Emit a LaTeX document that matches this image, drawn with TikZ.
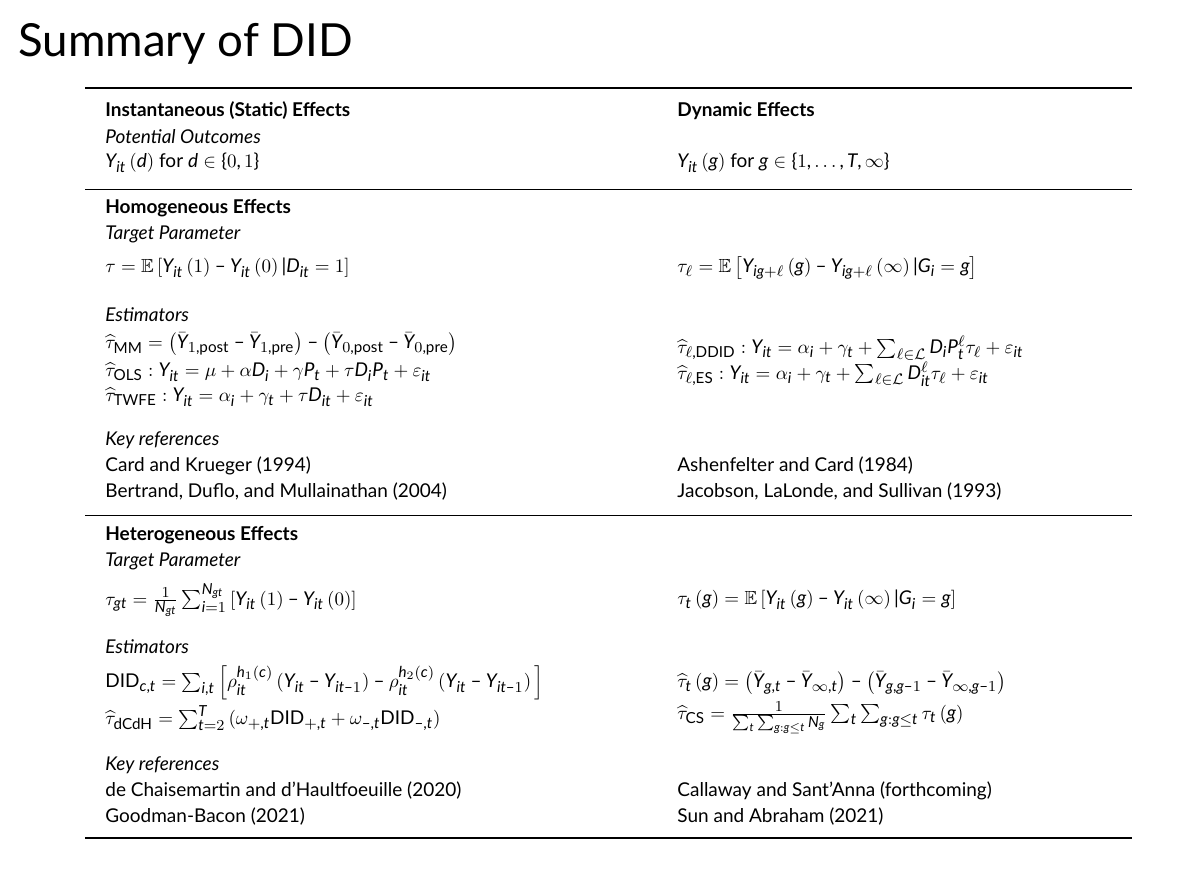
\documentclass[tikz,border=0pt]{standalone}
\usepackage{amsmath,amssymb}
\usepackage{fontspec}
\setmainfont{Lato}
\setsansfont{Lato}
\usepackage[italic]{mathastext}
\begin{document}
\begin{tikzpicture}[scale=1.9,x=0.526316pt,y=-0.526316pt,every node/.style={transform shape},
  t/.style={anchor=west,inner sep=0pt,font=\normalsize},
  hd/.style={t,font=\normalsize\bfseries},
  it/.style={t,font=\normalsize\itshape}]
\useasboundingbox (0,0) rectangle (1200,871);
\node[anchor=west,inner sep=0pt,font=\fontsize{24}{28}\selectfont] (title) at (18,44) {Summary of DID};
\draw[line width=2.2pt] (85,88) -- (1132,88);
\draw[line width=1pt] (85,190) -- (1132,190);
\draw[line width=1pt] (85,515) -- (1132,515);
\draw[line width=2.2pt] (85,838) -- (1132,838);
% left
\node[hd] (l1) at (105,111) {Instantaneous (Static) Effects};
\node[it] (l2) at (105,137) {Potential Outcomes};
\node[t] (l3) at (105,163) {$Y_{it}\left(d\right)$ for $d\in\{0,1\}$};
\node[hd] (l4) at (105,208) {Homogeneous Effects};
\node[it] (l5) at (105,234) {Target Parameter};
\node[t] (l6) at (105,268) {$\tau=\mathbb{E}\left[Y_{it}\left(1\right)-Y_{it}\left(0\right)|D_{it}=1\right]$};
\node[it] (l7) at (105,315) {Estimators};
\node[t] (l8) at (105,344) {$\widehat{\tau}_{\text{MM}}=\big(\bar{Y}_{1,\text{post}}-\bar{Y}_{1,\text{pre}}\big)-\big(\bar{Y}_{0,\text{post}}-\bar{Y}_{0,\text{pre}}\big)$};
\node[t] (l9) at (105,372) {$\widehat{\tau}_{\text{OLS}}:Y_{it}=\mu+\alpha D_i+\gamma P_t+\tau D_iP_t+\varepsilon_{it}$};
\node[t] (l10) at (105,397) {$\widehat{\tau}_{\text{TWFE}}:Y_{it}=\alpha_i+\gamma_t+\tau D_{it}+\varepsilon_{it}$};
\node[it] (l11) at (105,440) {Key references};
\node[t] (l12) at (105,466) {Card and Krueger (1994)};
\node[t] (l13) at (105,492) {Bertrand, Duflo, and Mullainathan (2004)};
\node[hd] (l14) at (105,535) {Heterogeneous Effects};
\node[it] (l15) at (105,561) {Target Parameter};
\node[t] (l16) at (105,600) {$\tau_{gt}=\frac{1}{N_{gt}}\sum_{i=1}^{N_{gt}}\left[Y_{it}\left(1\right)-Y_{it}\left(0\right)\right]$};
\node[it] (l17) at (105,647) {Estimators};
\node[t] (l18) at (105,683) {$\text{DID}_{c,t}=\sum_{i,t}\Big[\rho_{it}^{h_1(c)}\left(Y_{it}-Y_{it-1}\right)-\rho_{it}^{h_2(c)}\left(Y_{it}-Y_{it-1}\right)\Big]$};
\node[t] (l19) at (105,718) {$\widehat{\tau}_{\text{dCdH}}=\sum_{t=2}^{T}\left(\omega_{+,t}\text{DID}_{+,t}+\omega_{-,t}\text{DID}_{-,t}\right)$};
\node[it] (l20) at (105,765) {Key references};
\node[t] (l21) at (105,791) {de Chaisemartin and d'Haultfoeuille (2020)};
\node[t] (l22) at (105,817) {Goodman-Bacon (2021)};
% right
\node[hd] (r1) at (677,111) {Dynamic Effects};
\node[t] (r3) at (677,163) {$Y_{it}\left(g\right)$ for $g\in\{1,\ldots,T,\infty\}$};
\node[t] (r6) at (677,268) {$\tau_\ell=\mathbb{E}\left[Y_{ig+\ell}\left(g\right)-Y_{ig+\ell}\left(\infty\right)|G_i=g\right]$};
\node[t] (r8) at (677,348) {$\widehat{\tau}_{\ell,\text{DDID}}:Y_{it}=\alpha_i+\gamma_t+\sum_{\ell\in\mathcal{L}}D_iP_t^{\ell}\tau_\ell+\varepsilon_{it}$};
\node[t] (r9) at (677,374) {$\widehat{\tau}_{\ell,\text{ES}}:Y_{it}=\alpha_i+\gamma_t+\sum_{\ell\in\mathcal{L}}D_{it}^{\ell}\tau_\ell+\varepsilon_{it}$};
\node[t] (r12) at (677,466) {Ashenfelter and Card (1984)};
\node[t] (r13) at (677,492) {Jacobson, LaLonde, and Sullivan (1993)};
\node[t] (r16) at (677,600) {$\tau_t\left(g\right)=\mathbb{E}\left[Y_{it}\left(g\right)-Y_{it}\left(\infty\right)|G_i=g\right]$};
\node[t] (r18) at (677,683) {$\widehat{\tau}_t\left(g\right)=\big(\bar{Y}_{g,t}-\bar{Y}_{\infty,t}\big)-\big(\bar{Y}_{g,g-1}-\bar{Y}_{\infty,g-1}\big)$};
\node[t] (r19) at (677,718) {$\widehat{\tau}_{\text{CS}}=\frac{1}{\sum_t\sum_{g:g\le t}N_g}\sum_t\sum_{g:g\le t}\tau_t\left(g\right)$};
\node[t] (r21) at (677,791) {Callaway and Sant'Anna (forthcoming)};
\node[t] (r22) at (677,817) {Sun and Abraham (2021)};
\end{tikzpicture}
\end{document}
